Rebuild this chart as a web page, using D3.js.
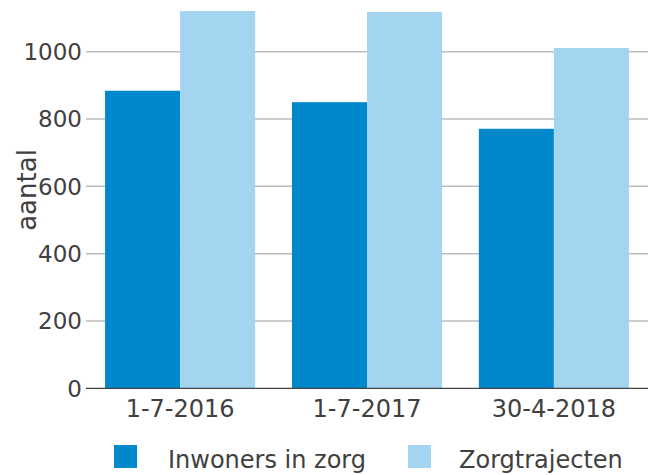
<!DOCTYPE html>
<html><head><meta charset="utf-8">
<script src="https://cdn.jsdelivr.net/npm/d3@7"></script>
<style>
body{margin:0;background:#fff;}
svg{display:block;}
text{font-family:"DejaVu Sans",Verdana,sans-serif;fill:#404040;}
</style></head>
<body><svg id="c" width="648" height="475"></svg>
<script>
const categories = ["1-7-2016", "1-7-2017", "30-4-2018"];
const seriesNames = ["Inwoners in zorg", "Zorgtrajecten"];
const inwoners = [884, 850, 771];
const zorgtrajecten = [1121, 1118, 1011];
const yTicks = [0, 200, 400, 600, 800, 1000];
const colors = ["#0088cc", "#a3d5f1"];

const svg = d3.select("#c");
const x0 = 86, x1 = 648, yBase = 388.3, pxPerUnit = 0.3366;
const y = d3.scaleLinear().domain([0, 1150]).range([yBase, yBase - 1150 * pxPerUnit]);
const x = d3.scaleBand().domain(categories).range([x0, x1]).paddingInner(0.197).paddingOuter(0.102);
const xs = d3.scaleBand().domain(seriesNames).range([0, x.bandwidth()]);

// gridlines
svg.append("g").selectAll("line").data(yTicks.filter(d => d > 0)).join("line")
  .attr("x1", x0).attr("x2", x1)
  .attr("y1", d => y(d)).attr("y2", d => y(d))
  .attr("stroke", "#bdbdbd").attr("stroke-width", 1.5);

// bars
const data = categories.map((c, i) => ({c, vals: [inwoners[i], zorgtrajecten[i]]}));
const g = svg.append("g").selectAll("g").data(data).join("g")
  .attr("transform", d => `translate(${x(d.c)},0)`);
g.selectAll("rect").data(d => d.vals.map((v, j) => ({v, s: seriesNames[j], j}))).join("rect")
  .attr("x", d => xs(d.s)).attr("width", xs.bandwidth())
  .attr("y", d => y(d.v)).attr("height", d => y(0) - y(d.v))
  .attr("fill", d => colors[d.j]);

// y axis labels
svg.append("g").selectAll("text").data(yTicks).join("text")
  .attr("x", 82).attr("y", d => y(d)).attr("dy", "0.36em")
  .attr("text-anchor", "end").attr("font-size", 23).text(d => d);

// x axis line
svg.append("line").attr("x1", x0).attr("x2", x1).attr("y1", yBase).attr("y2", yBase)
  .attr("stroke", "#444").attr("stroke-width", 1.2);

// x labels
svg.append("g").selectAll("text").data(categories).join("text")
  .attr("x", d => x(d) + x.bandwidth() / 2).attr("y", 417)
  .attr("text-anchor", "middle").attr("font-size", 24).text(d => d);

// y title
svg.append("text").attr("transform", `translate(36,190) rotate(-90)`)
  .attr("text-anchor", "middle").attr("font-size", 26).text("aantal");

// legend
const legX = [114, 408];
const lg = svg.append("g").selectAll("g").data(seriesNames).join("g")
  .attr("transform", (d, i) => `translate(${legX[i]},445)`);
lg.append("rect").attr("width", 23).attr("height", 23).attr("fill", (d, i) => colors[i]);
lg.append("text").attr("x", (d, i) => i === 0 ? 54 : 51).attr("y", 23).attr("font-size", 24).text(d => d);
</script></body></html>
